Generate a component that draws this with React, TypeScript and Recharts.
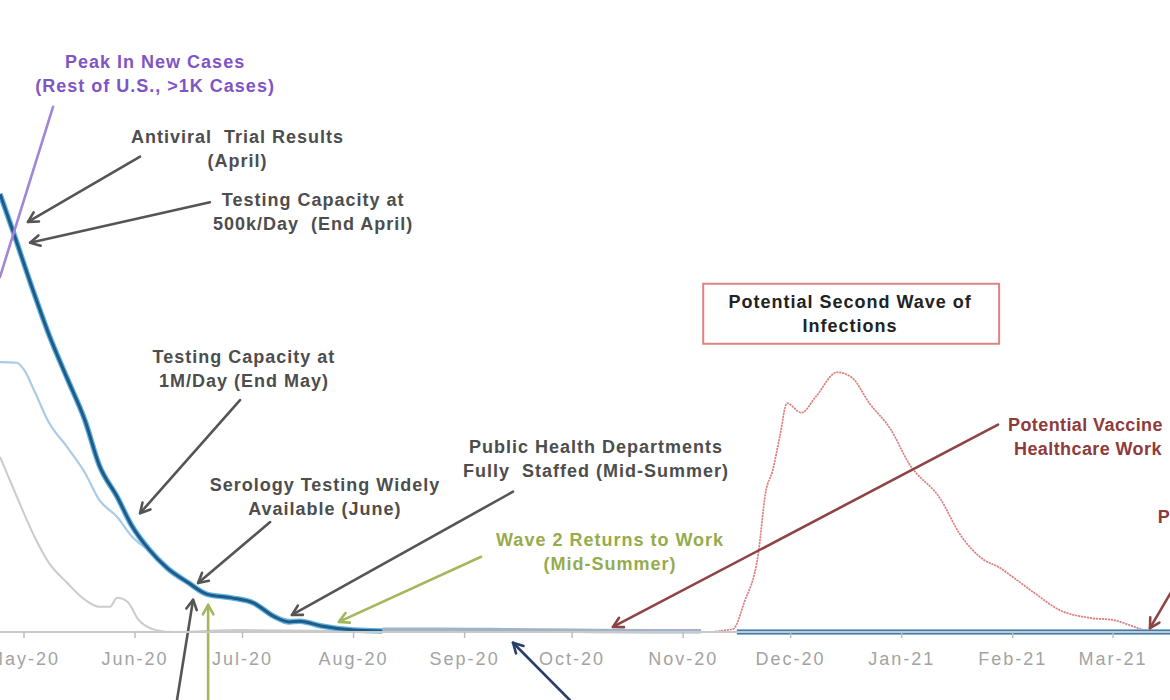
import React from 'react';
import { LineChart, Line, XAxis, YAxis, ReferenceLine, ReferenceDot, ReferenceArea } from 'recharts';

// x = days since 1 May 2020, y = relative daily new cases (index, 0-100)
const monthTickDays = [0, 31, 61, 92, 123, 153, 184, 214, 245, 276, 304];
const monthTickLabels = ['May-20', 'Jun-20', 'Jul-20', 'Aug-20', 'Sep-20', 'Oct-20', 'Nov-20', 'Dec-20', 'Jan-21', 'Feb-21', 'Mar-21'];

const hotspotDays = [-6.7, -3, 2, 7, 12, 17, 21, 26, 30, 35, 40, 46, 51, 58, 64, 70, 74, 77, 83, 92, 100];
const hotspotValues = [69.3, 63.3, 54.9, 47, 40.2, 33.5, 26.4, 21.4, 16.9, 13, 10.1, 7.75, 6, 5.4, 4.6, 2.4, 1.6, 1.7, 0.95, 0.3, 0.15];

const restDays = [-6.7, -2, 0, 3, 7, 12, 17, 21, 26, 30, 35, 40, 46, 51, 58, 64, 70, 77, 83, 92, 100];
const restValues = [42.7, 42.6, 41.5, 38, 33.1, 29.3, 25.2, 20.9, 18.2, 15.2, 12.8, 10.1, 7.75, 6, 5.4, 4.6, 2.4, 1.7, 0.95, 0.3, 0.15];

const otherDays = [-6.7, -2, 3, 7, 12, 17, 21, 24, 26, 29, 32, 37, 42, 60, 80, 100];
const otherValues = [27.7, 21.4, 15, 10.9, 7.8, 5.1, 4, 4, 5.4, 4.7, 1.9, 0.3, 0, 0.3, 0.2, 0.1];

const plateauDays = [100, 115, 130, 145, 160, 175, 189];
const plateauValues = [0.35, 0.35, 0.3, 0.25, 0.15, 0.1, 0.1];

const secondWaveDays = [192, 196, 198, 201, 205, 207, 209, 211, 213, 217, 221, 227, 231, 236, 242, 247, 256, 261, 268, 272, 276, 282, 289, 298, 304, 310, 314];
const secondWaveValues = [0, 0.3, 0.5, 4.6, 12.5, 22, 25.6, 31, 36.2, 34.7, 37.2, 41.1, 40.3, 36.2, 32, 26.7, 20.9, 15.7, 11.4, 10.3, 8.7, 6.2, 3.5, 2.2, 1.9, 0.8, 0];

const lateDays = [199, 230, 260, 290, 319.9];
const lateValues = [0, 0, 0, 0, 0];

const toPoints = (days: number[], values: number[]) => days.map((d, i) => ({ day: d, v: values[i] }));

const hotspot = toPoints(hotspotDays, hotspotValues);
const rest = toPoints(restDays, restValues);
const other = toPoints(otherDays, otherValues);
const plateau = toPoints(plateauDays, plateauValues);
const secondWave = toPoints(secondWaveDays, secondWaveValues);
const late = toPoints(lateDays, lateValues);

const GRAY_TXT = '#4d4d4d';
const PURPLE = '#7f55c6';
const GREEN = '#96ab4c';
const BRICK = '#8e3b3b';

type Note = { lines: string[]; day: number; value: number; color: string; anchor?: 'start' | 'middle'; spacing?: number };
const notes: Note[] = [
  { lines: ['Peak In New Cases', '(Rest of U.S., >1K Cases)'], day: 36.6, value: 90.2, color: PURPLE },
  { lines: ['Antiviral  Trial Results', '(April)'], day: 59.6, value: 78.3, color: GRAY_TXT },
  { lines: ['Testing Capacity at', '500k/Day  (End April)'], day: 80.7, value: 68.4, color: GRAY_TXT },
  { lines: ['Testing Capacity at', '1M/Day (End May)'], day: 61.4, value: 43.5, color: GRAY_TXT },
  { lines: ['Serology Testing Widely', 'Available (June)'], day: 84.0, value: 23.3, color: GRAY_TXT },
  { lines: ['Public Health Departments', 'Fully  Staffed (Mid-Summer)'], day: 159.7, value: 29.3, color: GRAY_TXT },
  { lines: ['Wave 2 Returns to Work', '(Mid-Summer)'], day: 163.6, value: 14.6, color: GREEN },
  { lines: ['Potential Second Wave of', 'Infections'], day: 230.6, value: 52.2, color: '#222222' },
  { lines: ['Potential Vaccine', 'Healthcare Work'], day: 274.7, value: 32.8, color: BRICK, anchor: 'start', spacing: 0.4 },
  { lines: ['P'], day: 316.5, value: 18.2, color: BRICK, anchor: 'start' },
];

type Arrow = { from: [number, number]; to: [number, number]; color: string; head: boolean };
const arrows: Arrow[] = [
  { from: [-6.7, 56.2], to: [8.1, 83.1], color: '#a185d6', head: false },
  { from: [32.4, 75.2], to: [1.1, 64.9], color: '#555555', head: true },
  { from: [51.9, 68.0], to: [1.7, 61.6], color: '#555555', head: true },
  { from: [60.3, 36.7], to: [32.4, 18.8], color: '#555555', head: true },
  { from: [68.7, 17.4], to: [48.6, 7.75], color: '#555555', head: true },
  { from: [136.5, 22.2], to: [74.8, 2.7], color: '#555555', head: true },
  { from: [127.6, 11.9], to: [87.9, 1.6], color: '#a3b85c', head: true },
  { from: [271.9, 32.8], to: [164.4, 0.8], color: '#8e4444', head: true },
  { from: [320.5, 6.6], to: [314.3, 0.6], color: '#8e4444', head: true },
  { from: [42.7, -10.8], to: [47.2, 5.1], color: '#555555', head: true },
  { from: [51.4, -10.8], to: [51.4, 4.3], color: '#a3b85c', head: true },
  { from: [152.4, -10.8], to: [136.5, -1.7], color: '#2b3d6b', head: true },
];

const box = { x1: 189.6, x2: 272.2, y1: 45.6, y2: 55.1 };

const arrowShape = (color: string, head: boolean) => (props: any) => {
  const { x1, y1, x2, y2 } = props;
  const ang = Math.atan2(y2 - y1, x2 - x1);
  const L = 11;
  const a = 0.5;
  const ax = x2 - L * Math.cos(ang - a);
  const ay = y2 - L * Math.sin(ang - a);
  const bx = x2 - L * Math.cos(ang + a);
  const by = y2 - L * Math.sin(ang + a);
  return (
    <g>
      <line x1={x1} y1={y1} x2={x2} y2={y2} stroke={color} strokeWidth={2.6} strokeLinecap="round" />
      {head && (
        <polyline
          points={`${ax},${ay} ${x2},${y2} ${bx},${by}`}
          fill="none"
          stroke={color}
          strokeWidth={2.6}
          strokeLinecap="round"
          strokeLinejoin="round"
        />
      )}
    </g>
  );
};

const noteShape = (note: Note) => (props: any) => {
  const { cx, cy } = props;
  return (
    <text
      x={cx}
      y={cy}
      textAnchor={note.anchor || 'middle'}
      fill={note.color}
      fontSize={18}
      fontWeight={700}
      fontFamily="'Liberation Sans', Arial, sans-serif"
      letterSpacing={note.spacing ?? 1}
      style={{ whiteSpace: 'pre' }}
    >
      {note.lines.map((l, i) => (
        <tspan key={i} x={cx + (note.anchor === 'start' && i === 1 ? 6 : 0)} dy={i === 0 ? 6 : 24}>
          {l}
        </tspan>
      ))}
    </text>
  );
};

const tickLabel = (d: number) => {
  const i = monthTickDays.indexOf(d);
  return i >= 0 ? monthTickLabels[i] : '';
};

const lineCommon = { type: 'monotone' as const, dataKey: 'v', dot: false, activeDot: false, isAnimationActive: false };

export default function App() {
  return (
    <div style={{ position: 'absolute', left: 0, top: 0, width: 1170, height: 700, background: '#ffffff' }}>
      <LineChart width={1170} height={700} margin={{ top: 0, right: 0, bottom: 0, left: 0 }}>
        <XAxis
          type="number"
          dataKey="day"
          domain={[-6.7, 319.9]}
          ticks={monthTickDays}
          interval={0}
          tickFormatter={tickLabel}
          height={68}
          axisLine={{ stroke: '#c9c9c9', strokeWidth: 2 }}
          tickLine={{ stroke: '#bdbdbd', strokeWidth: 1.5 }}
          tickSize={6}
          tickMargin={14}
          tick={{ fill: '#a3a3a3', fontSize: 18, fontFamily: "'Liberation Sans', Arial, sans-serif", letterSpacing: 2 }}
        />
        <YAxis type="number" domain={[0, 100]} hide />
        <Line {...lineCommon} data={other} stroke="#cbcbcb" strokeWidth={2} />
        <Line {...lineCommon} data={rest} stroke="#a9cbe8" strokeWidth={2.2} />
        <Line {...lineCommon} data={plateau} stroke="#9fb4c8" strokeWidth={4.5} />
        <Line {...lineCommon} data={secondWave} stroke="#dc7f7f" strokeWidth={1.7} strokeDasharray="2.2 0.8" />
        <Line {...lineCommon} data={hotspot} stroke="#63b1e2" strokeWidth={5.5} />
        <Line {...lineCommon} data={hotspot} stroke="#1e5b86" strokeWidth={3} />
        <Line {...lineCommon} data={late} stroke="#7db9e0" strokeWidth={6} />
        <Line {...lineCommon} data={late} stroke="#2f6698" strokeWidth={3.6} />
        <ReferenceArea
          x1={box.x1}
          x2={box.x2}
          y1={box.y1}
          y2={box.y2}
          fill="#ffffff"
          fillOpacity={1}
          stroke="#e08282"
          strokeWidth={2}
          ifOverflow="visible"
        />
        {arrows.map((a, i) => (
          <ReferenceLine
            key={'a' + i}
            segment={[
              { x: a.from[0], y: a.from[1] },
              { x: a.to[0], y: a.to[1] },
            ]}
            ifOverflow="visible"
            shape={arrowShape(a.color, a.head)}
          />
        ))}
        {notes.map((n, i) => (
          <ReferenceDot key={'n' + i} x={n.day} y={n.value} r={0} ifOverflow="visible" shape={noteShape(n)} />
        ))}
      </LineChart>
    </div>
  );
}
